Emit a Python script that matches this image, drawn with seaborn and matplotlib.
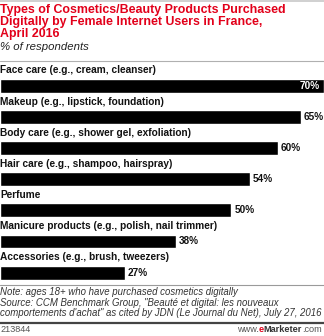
import matplotlib
matplotlib.use("Agg")
import matplotlib.pyplot as plt
from matplotlib.lines import Line2D
import seaborn as sns
import pandas as pd

# Data
categories = [
    "Face care (e.g., cream, cleanser)",
    "Makeup (e.g., lipstick, foundation)",
    "Body care (e.g., shower gel, exfoliation)",
    "Hair care (e.g., shampoo, hairspray)",
    "Perfume",
    "Manicure products (e.g., polish, nail trimmer)",
    "Accessories (e.g., brush, tweezers)",
]
values = [70, 65, 60, 54, 50, 38, 27]

title_lines = [
    "Types of Cosmetics/Beauty Products Purchased",
    "Digitally by Female Internet Users in France,",
    "April 2016",
]
subtitle = "% of respondents"
note_lines = [
    "Note: ages 18+ who have purchased cosmetics digitally",
    "Source: CCM Benchmark Group, \"Beauté et digital: les nouveaux",
    "comportements d'achat\" as cited by JDN (Le Journal du Net), July 27, 2016",
]
chart_id = "213844"

sns.set_theme(style="white")
plt.rcParams["font.family"] = ["Liberation Sans", "DejaVu Sans"]

W, H = 324, 336
fig = plt.figure(figsize=(W / 100, H / 100), dpi=100)
fig.patch.set_facecolor("white")

RED = "#e2001a"


def fy(px):
    return 1 - px / H


def fx(px):
    return px / W


# Bar area: row centers start at 86 px, 31.1 px apart
row0, step = 86.0, 31.1
top_px, bot_px = 55.0, 289.0
ax = fig.add_axes([0, fy(bot_px), 1, (bot_px - top_px) / H])
df = pd.DataFrame({"cat": categories, "val": values})
sns.barplot(data=df, x="val", y="cat", orient="h", color="black",
            width=0.45, saturation=1, ax=ax)
ax.set_xlim(0, 70)
ax.set_ylim((bot_px - row0) / step, (top_px - row0) / step)
ax.axis("off")

for i, (c, v) in enumerate(zip(categories, values)):
    ax.text(0, i - 0.5, c, ha="left", va="center", fontsize=7.3,
            fontweight="bold", color="#111111")
    label = f"{v}%"
    if v >= 68:
        ax.text(v - 0.9, i, label, ha="right", va="center", fontsize=7.2,
                fontweight="bold", color="white")
    else:
        ax.text(v + 0.6, i, label, ha="left", va="center", fontsize=7.2,
                fontweight="bold", color="#111111")

# Header
fig.add_artist(Line2D([0, 1], [fy(0.5), fy(0.5)], color="#c8c8c8", lw=1.2))
for k, line in enumerate(title_lines):
    fig.text(fx(0), fy(9.5 + 12.4 * k), line, ha="left", va="center",
             fontsize=8.95, fontweight="bold", color=RED)
fig.text(fx(0), fy(47), subtitle, ha="left", va="center", fontsize=8.2,
         style="italic", color="#222222")
fig.add_artist(Line2D([0, 1], [fy(60.5), fy(60.5)], color="#b0b0b0", lw=0.8))

# Footer
fig.add_artist(Line2D([0, 1], [fy(285), fy(285)], color="#9a9a9a", lw=0.8))
for k, line in enumerate(note_lines):
    fig.text(fx(0), fy(292 + 10.5 * k), line, ha="left", va="center",
             fontsize=6.9, style="italic", color="#333333")
fig.add_artist(Line2D([0, 1], [fy(322.5), fy(322.5)], color="#444444", lw=1.6))
fig.text(fx(0), fy(330), chart_id, ha="left", va="center", fontsize=6.6,
         color="#555555")

# Brand mark, assembled right to left
fig.canvas.draw()
renderer = fig.canvas.get_renderer()
pieces = [(".com", "normal", "#555555"), ("Marketer", "bold", "#333333"),
          ("e", "bold", RED), ("www.", "normal", "#555555")]
xr = fx(W - 2)
for txt, wt, col in pieces:
    t = fig.text(xr, fy(330), txt, ha="right", va="center", fontsize=6.6,
                 fontweight=wt, color=col)
    bb = t.get_window_extent(renderer)
    xr = bb.x0 / W

fig.savefig("out.png", dpi=100, facecolor="white")
